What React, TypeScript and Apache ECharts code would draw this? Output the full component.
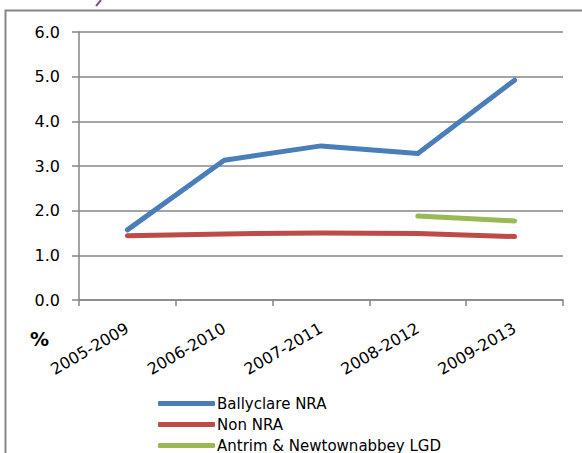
import React, { useEffect, useRef } from "react";
import * as echarts from "echarts";

const categories = ["2005-2009", "2006-2010", "2007-2011", "2008-2012", "2009-2013"];
const ballyclare = [1.57, 3.13, 3.45, 3.28, 4.92];
const nonNra = [1.44, 1.48, 1.50, 1.49, 1.42];
const antrim = [null, null, null, 1.88, 1.77];
const yTicks = { min: 0, max: 6, interval: 1 };
const legendNames = ["Ballyclare NRA", "Non NRA", "Antrim & Newtownabbey LGD"];

const FONT = "'DejaVu Sans', sans-serif";

export default function App() {
  const ref = useRef<HTMLDivElement>(null);
  useEffect(() => {
    if (!ref.current) return;
    const chart = echarts.init(ref.current, null, { renderer: "svg" });
    const lineSeries = (name: string, data: any[], color: string) => ({
      name,
      type: "line",
      data,
      symbol: "none",
      showSymbol: false,
      connectNulls: false,
      lineStyle: { color, width: 5, cap: "round", join: "round" },
      itemStyle: { color },
    });
    chart.setOption({
      animation: false,
      backgroundColor: "#ffffff",
      grid: { left: 79, right: 19, top: 32, bottom: 153, containLabel: false },
      xAxis: {
        type: "category",
        data: categories,
        boundaryGap: true,
        axisLine: { show: true, lineStyle: { color: "#868686", width: 1.5 } },
        axisTick: { show: true, alignWithLabel: false, length: 6, lineStyle: { color: "#868686", width: 1.5 } },
        axisLabel: {
          rotate: 30,
          interval: 0,
          margin: 27,
          color: "#000",
          fontFamily: FONT,
          fontSize: 16,
        },
        splitLine: { show: false },
      },
      yAxis: {
        type: "value",
        min: yTicks.min,
        max: yTicks.max,
        interval: yTicks.interval,
        axisLine: { show: true, lineStyle: { color: "#868686", width: 1.5 } },
        axisTick: { show: true, length: 7, lineStyle: { color: "#868686", width: 1.5 } },
        axisLabel: {
          formatter: (v: number) => v.toFixed(1),
          color: "#000",
          fontFamily: FONT,
          fontSize: 16,
          margin: 19,
        },
        splitLine: { show: true, lineStyle: { color: "#868686", width: 1.5 } },
      },
      legend: {
        orient: "vertical",
        left: 158,
        top: 396,
        padding: 0,
        itemWidth: 57,
        itemHeight: 5,
        itemGap: 6,
        icon: "roundRect",
        textStyle: { color: "#000", fontFamily: FONT, fontSize: 15, lineHeight: 14, padding: [0, 0, 0, -3] },
        data: legendNames,
      },
      series: [
        lineSeries(legendNames[0], ballyclare, "#4a7ebb"),
        lineSeries(legendNames[1], nonNra, "#be4b48"),
        lineSeries(legendNames[2], antrim, "#98b954"),
      ],
      graphic: [
        {
          type: "polyline",
          shape: { points: [[5.5, 453], [5.5, 10.5], [582, 10.5]] },
          style: { stroke: "#868686", lineWidth: 2, fill: "none" },
          silent: true,
        },
        {
          type: "line",
          shape: { x1: 96, y1: 6, x2: 101, y2: 0 },
          style: { stroke: "#7f4fa8", lineWidth: 2 },
          silent: true,
        },
        {
          type: "text",
          left: 30,
          top: 329,
          style: { text: "%", fill: "#000", font: "bold 19px " + FONT },
          silent: true,
        },
      ],
    });
    return () => chart.dispose();
  }, []);
  return <div ref={ref} style={{ width: 582, height: 453, position: "absolute", left: 0, top: 0 }} />;
}
